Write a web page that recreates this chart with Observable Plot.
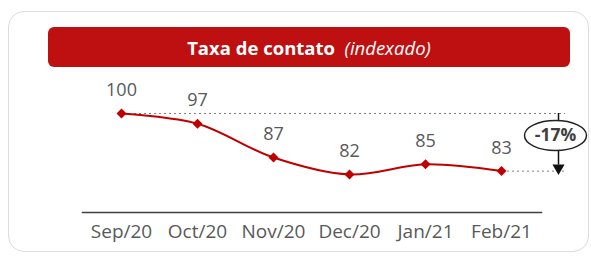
<!DOCTYPE html>
<html><head><meta charset="utf-8">
<script src="https://cdn.jsdelivr.net/npm/d3@7"></script>
<script src="https://cdn.jsdelivr.net/npm/@observablehq/plot@0.6"></script>
<style>
body{margin:0;background:#fff;}
#wrap{position:relative;width:591px;height:257px;font-family:"Open Sans",sans-serif;overflow:hidden;}
#card{position:absolute;left:8px;top:11px;width:581px;height:241px;border:1.5px solid #dcdcdc;border-radius:16px;box-sizing:border-box;}
#banner{position:absolute;left:48px;top:27px;width:522px;height:40px;background:#BE1010;border-radius:6px;color:#fff;font-size:18.5px;display:flex;align-items:center;justify-content:center;padding-left:0;box-sizing:border-box;}
#chart{position:absolute;left:0;top:0;}
</style></head><body>
<div id="wrap"><div id="card"></div><div id="banner"><b>Taxa de contato</b>&nbsp;&nbsp;<i>(indexado)</i></div><div id="chart"></div></div>
<script>
const months = ["Sep/20","Oct/20","Nov/20","Dec/20","Jan/21","Feb/21"];
const values = [100,97,87,82,85,83];
const changeLabel = "-17%";
const data = months.map((m,i)=>({month:m,value:values[i]}));
const first = data[0], last = data[data.length-1];

const ellipse = {draw(ctx){ const rx=31, ry=15, k=0.5523;
  ctx.moveTo(rx,0);
  ctx.bezierCurveTo(rx, ry*k, rx*k, ry, 0, ry);
  ctx.bezierCurveTo(-rx*k, ry, -rx, ry*k, -rx, 0);
  ctx.bezierCurveTo(-rx, -ry*k, -rx*k, -ry, 0, -ry);
  ctx.bezierCurveTo(rx*k, -ry, rx, -ry*k, rx, 0);
  ctx.closePath(); }};

const red = "#C00000";
const chart = Plot.plot({
  width: 591, height: 257,
  marginLeft: 82, marginRight: 50, marginBottom: 45, marginTop: 0,
  style: {background: "transparent", fontFamily: "'Open Sans', sans-serif"},
  x: {type: "point", domain: months, range: [119, 502], padding: 0, label: null},
  y: {domain: [82, 100], range: [174, 113], axis: null},
  marks: [
    Plot.frame({anchor: "bottom", stroke: "#404040", strokeWidth: 1.5}),
    Plot.axisX({tickSize: 0, tickPadding: 12, fontSize: 19, fill: "#595959", label: null}),
    Plot.ruleY([first.value], {insetLeft: 37, insetRight: -24, stroke: "#808080", strokeDasharray: "2,3", strokeWidth: 1}),
    Plot.ruleY([last.value], {insetLeft: 420, insetRight: -24, stroke: "#808080", strokeDasharray: "2,3", strokeWidth: 1}),
    Plot.line(data, {x: "month", y: "value", curve: "catmull-rom", stroke: red, strokeWidth: 2}),
    Plot.dot(data, {x: "month", y: "value", symbol: "square", rotate: 45, r: 4, fill: red}),
    Plot.text(data, {x: "month", y: "value", text: "value", dy: -23, fontSize: 18, fill: "#595959"}),
    Plot.ruleX([last], {x: "month", y1: () => first.value, y2: () => last.value, dx: 57, stroke: "#111", strokeWidth: 1.5, insetBottom: 6}),
    Plot.dot([last], {x: "month", y: "value", symbol: "triangle", rotate: 180, r: 4.5, fill: "#111", dx: 57, dy: -3}),
    Plot.dot([first], {x: () => last.month, y: "value", symbol: ellipse, fill: "#fff", stroke: "#222", strokeWidth: 1.5, dx: 54, dy: 22}),
    Plot.text([changeLabel], {x: () => last.month, y: () => first.value, text: d => d, dx: 54, dy: 22, fontSize: 17.5, fontWeight: "bold", fill: "#404040"})
  ]
});
document.getElementById("chart").append(chart);
</script>
</body></html>
